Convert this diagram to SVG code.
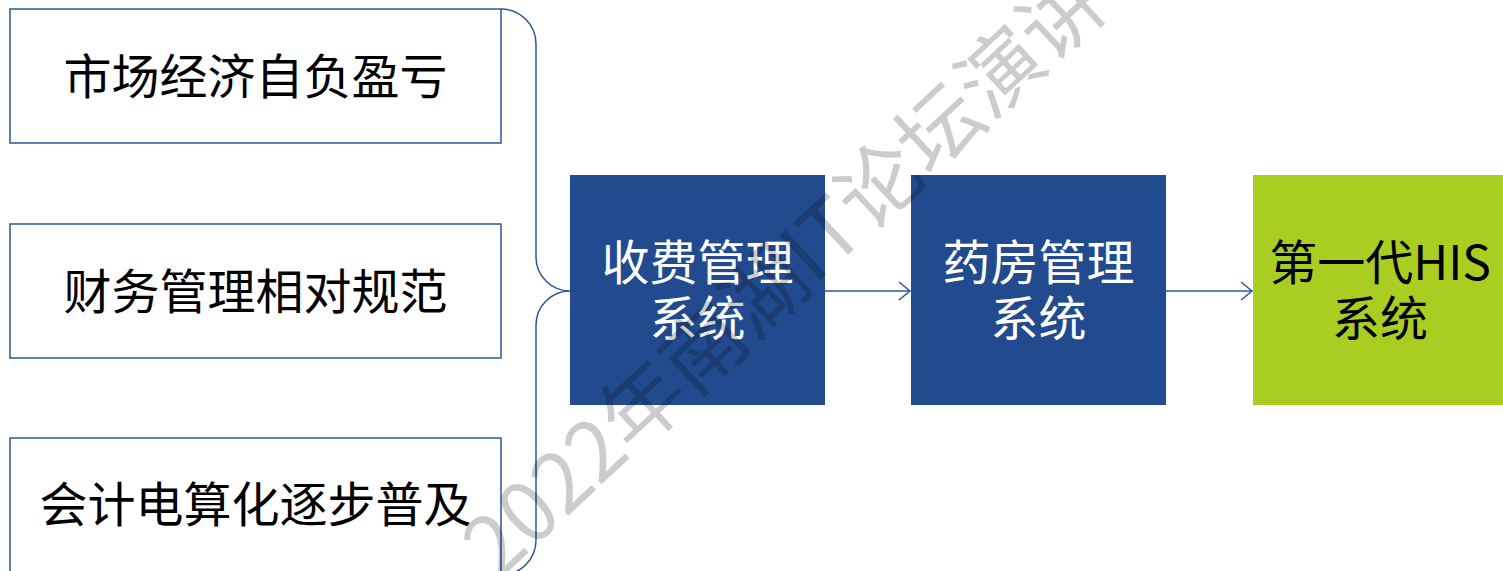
<svg xmlns="http://www.w3.org/2000/svg" width="1503" height="571" viewBox="0 0 1503 571">
  <defs>
    <style>
      .lbox { fill: #ffffff; stroke: #2F5597; stroke-width: 1.5; }
      .bbox { fill: #224A8E; }
      .gbox { fill: #A9CD21; }
      .t { font-family: "Noto Sans CJK SC", "Noto Sans", sans-serif; font-size: 48px; text-anchor: middle; }
      .dark { fill: #000000; }
      .light { fill: #ffffff; }
      .conn { fill: none; stroke: #2F5597; stroke-width: 1.5; }
      .wm { font-family: "Noto Sans CJK SC", "Noto Sans", sans-serif; font-size: 83px; fill: #000000; fill-opacity: 0.2; }
    </style>
    <marker id="arrow" markerWidth="16" markerHeight="22" refX="13" refY="11" orient="auto" markerUnits="userSpaceOnUse">
      <path d="M2,2 L13,11 L2,20" fill="none" stroke="#2F5597" stroke-width="1.5"/>
    </marker>
  </defs>
  <rect width="1503" height="571" fill="#ffffff"/>

  <g id="node-market">
    <rect class="lbox" x="10" y="9" width="491" height="134"/>
    <text class="t dark" x="255.5" y="94">市场经济自负盈亏</text>
  </g>
  <g id="node-finance">
    <rect class="lbox" x="10" y="224" width="491" height="134"/>
    <text class="t dark" x="255.5" y="309">财务管理相对规范</text>
  </g>
  <g id="node-accounting">
    <rect class="lbox" x="10" y="438" width="491" height="140"/>
    <text class="t dark" x="255.5" y="522">会计电算化逐步普及</text>
  </g>

  <g id="node-billing">
    <rect class="bbox" x="570" y="175" width="255" height="230"/>
    <text class="t light" x="697.5" y="280">收费管理</text>
    <text class="t light" x="697.5" y="336">系统</text>
  </g>
  <g id="node-pharmacy">
    <rect class="bbox" x="911" y="175" width="255" height="230"/>
    <text class="t light" x="1038.5" y="280">药房管理</text>
    <text class="t light" x="1038.5" y="336">系统</text>
  </g>
  <g id="node-his">
    <rect class="gbox" x="1253" y="175" width="250" height="230"/>
    <text class="t dark" x="1380" y="280">第一代HIS</text>
    <text class="t dark" x="1380" y="336">系统</text>
  </g>

  <g id="connectors">
    <path class="conn" d="M501,9 A35,35 0 0 1 536,44 V257 A34,34 0 0 0 570,291 A34,34 0 0 0 536,325 V540 A35,35 0 0 1 501,575"/>
    <line class="conn" x1="825" y1="291" x2="910" y2="291" marker-end="url(#arrow)"/>
    <line class="conn" x1="1166" y1="291" x2="1252" y2="291" marker-end="url(#arrow)"/>
  </g>

  <g id="watermark">
    <text class="wm" x="0" y="0" transform="translate(498,581) rotate(-43)">2022年南湖IT论坛演讲</text>
  </g>
</svg>
